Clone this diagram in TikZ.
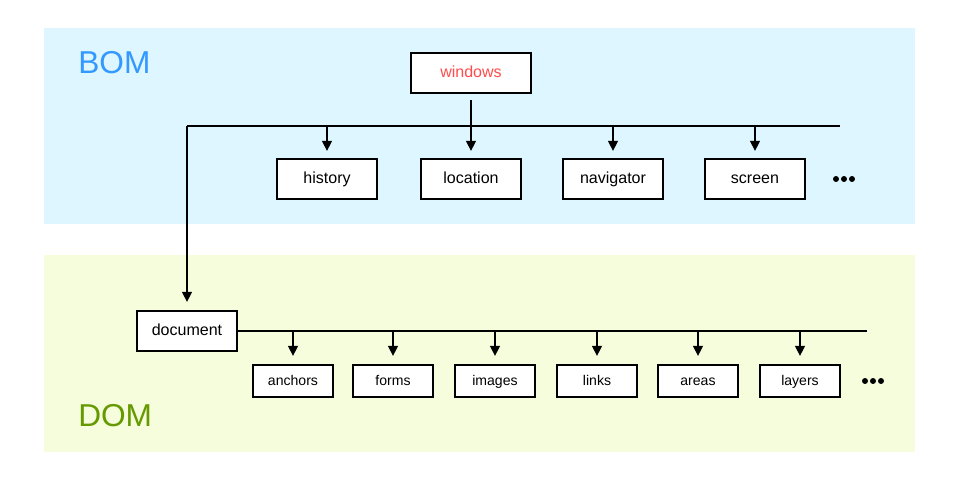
\documentclass[tikz,border=0pt]{standalone}
\usepackage{fontspec}
\setmainfont{Liberation Sans}
\usetikzlibrary{arrows.meta,calc}

\definecolor{bombg}{RGB}{221,246,255}
\definecolor{dombg}{RGB}{245,253,221}
\definecolor{bomtext}{RGB}{51,153,255}
\definecolor{domtext}{RGB}{102,153,0}
\definecolor{wintext}{RGB}{255,76,76}

\begin{document}
\begin{tikzpicture}[x=0.025cm,y=0.025cm]
\path [use as bounding box] (0,0) rectangle (960,480);
\tikzstyle{bigbox} = [draw, line width=0.05cm, fill=white, minimum width=2.5cm, minimum height=1cm, inner sep=0pt, text height=1.6ex, text depth=.45ex, font=\fontsize{11.4}{13}\selectfont]
\tikzstyle{smallbox} = [draw, line width=0.05cm, fill=white, minimum width=2cm, minimum height=0.8cm, inner sep=0pt, text height=1.6ex, text depth=.45ex, font=\fontsize{10}{12}\selectfont]
\tikzstyle{arr} = [line width=0.05cm, -{Triangle[length=2.5mm,width=2.4mm]}]
\tikzstyle{bus} = [line width=0.05cm]
% the two areas
\fill[bombg] (44,452) rectangle (915,256);
\fill[dombg] (44,225) rectangle (915,28);
\node[anchor=west, inner sep=0pt, text=bomtext, font=\fontsize{22.5}{26}\selectfont] (bom) at (78,417) {BOM};
\node[anchor=west, inner sep=0pt, text=domtext, font=\fontsize{22.5}{26}\selectfont] (dom) at (78,64) {DOM};
% BOM part
\node[bigbox, minimum width=3cm, text=wintext] (win) at (471,407) {windows};
\coordinate (busL) at (187,354);
\coordinate (busR) at (840,354);
\node[bigbox] (hist) at (327,301) {history};
\node[bigbox] (loc) at (471,301) {location};
\node[bigbox] (nav) at (613,301) {navigator};
\node[bigbox] (scr) at (755,301) {screen};
\draw[bus] (busL) -- (busR);
\draw[arr, shorten <=1.5mm, shorten >=1.75mm] (win.south) -- (loc.north);
\draw[arr, shorten >=1.75mm] (hist.north |- busL) -- (hist.north);
\draw[arr, shorten >=1.75mm] (nav.north |- busL) -- (nav.north);
\draw[arr, shorten >=1.75mm] (scr.north |- busL) -- (scr.north);
\fill (836,301) circle (3) (844,301) circle (3) (852,301) circle (3);
% DOM part
\node[bigbox] (doc) at (187,149) {document};
\coordinate (dbusR) at (867,149);
\draw[arr, shorten >=2mm] (busL) -- (doc.north);
\node[smallbox] (anc) at (293,99) {anchors};
\node[smallbox] (frm) at (393,99) {forms};
\node[smallbox] (img) at (495,99) {images};
\node[smallbox] (lnk) at (597,99) {links};
\node[smallbox] (are) at (698,99) {areas};
\node[smallbox] (lay) at (800,99) {layers};
\draw[bus] (doc.east) -- (dbusR);
\draw[arr, shorten >=2mm] (anc.north |- doc.east) -- (anc.north);
\draw[arr, shorten >=2mm] (frm.north |- doc.east) -- (frm.north);
\draw[arr, shorten >=2mm] (img.north |- doc.east) -- (img.north);
\draw[arr, shorten >=2mm] (lnk.north |- doc.east) -- (lnk.north);
\draw[arr, shorten >=2mm] (are.north |- doc.east) -- (are.north);
\draw[arr, shorten >=2mm] (lay.north |- doc.east) -- (lay.north);
\fill (865,99) circle (3) (873,99) circle (3) (881,99) circle (3);
\end{tikzpicture}
\end{document}
